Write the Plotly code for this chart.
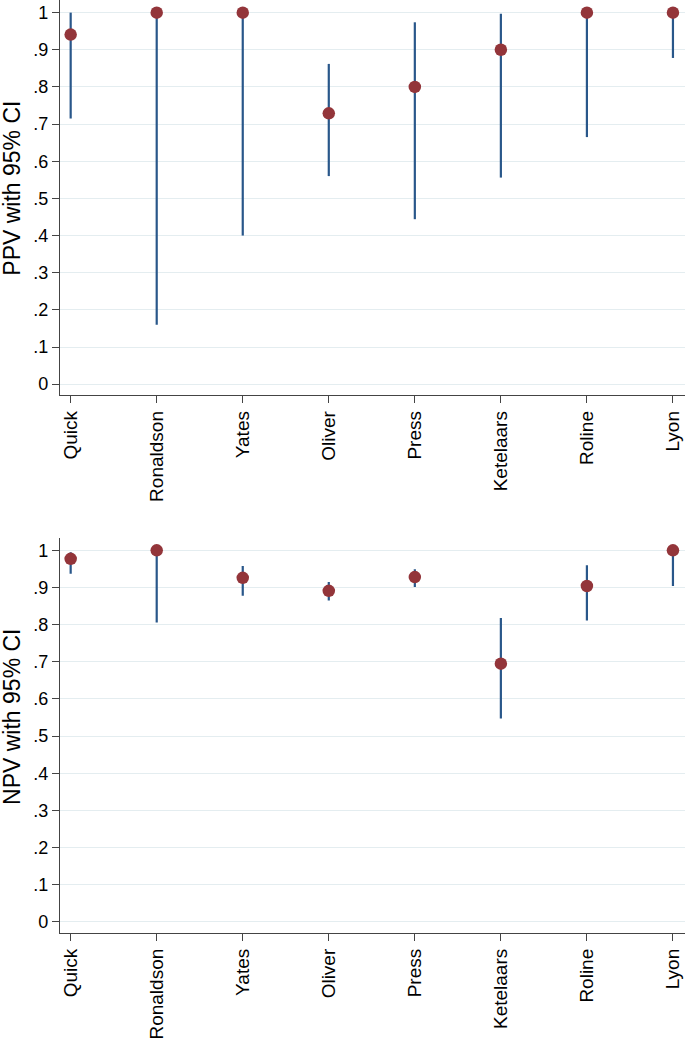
import plotly.graph_objects as go
from plotly.subplots import make_subplots

surgeons = ["Quick", "Ronaldson", "Yates", "Oliver", "Press", "Ketelaars", "Roline", "Lyon"]

ppv = [0.941, 1.0, 1.0, 0.729, 0.800, 0.900, 1.0, 1.0]
ppv_lo = [0.715, 0.160, 0.400, 0.560, 0.444, 0.556, 0.665, 0.878]
ppv_hi = [1.0, 1.0, 1.0, 0.862, 0.974, 0.997, 1.0, 1.0]

npv = [0.977, 1.0, 0.926, 0.891, 0.928, 0.695, 0.904, 1.0]
npv_lo = [0.937, 0.806, 0.878, 0.865, 0.901, 0.547, 0.811, 0.904]
npv_hi = [0.995, 1.0, 0.958, 0.915, 0.949, 0.818, 0.960, 1.0]

ytick_vals = [0, 0.1, 0.2, 0.3, 0.4, 0.5, 0.6, 0.7, 0.8, 0.9, 1.0]
ytick_text = ["0", ".1", ".2", ".3", ".4", ".5", ".6", ".7", ".8", ".9", "1"]

W, H = 685, 1040
ML, MR, MT, MB = 60, 0, 0, 103
plot_h = H - MT - MB
panel_h = 397
plot_w = W - ML - MR

fig = make_subplots(rows=2, cols=1, vertical_spacing=0.0)

x_pos = list(range(1, len(surgeons) + 1))

def add_panel(row, est, lo, hi):
    plus = [h - e for h, e in zip(hi, est)]
    minus = [e - l for e, l in zip(est, lo)]
    fig.add_trace(go.Scatter(
        x=x_pos, y=est, mode="markers",
        marker=dict(color="#93353a", size=12.5, line=dict(width=0)),
        error_y=dict(type="data", symmetric=False, array=plus, arrayminus=minus,
                     color="#29578a", thickness=2.2, width=0),
        showlegend=False, hoverinfo="skip"), row=row, col=1)

add_panel(1, ppv, ppv_lo, ppv_hi)
add_panel(2, npv, npv_lo, npv_hi)

fam = "Liberation Sans, Arial, sans-serif"
ytick_font = dict(family=fam, size=18, color="#000000")
xtick_font = dict(family=fam, size=19, color="#000000")

for row in (1, 2):
    fig.update_yaxes(row=row, col=1, range=[-0.03, 1.034], tickvals=ytick_vals, ticktext=ytick_text,
                     showgrid=True, gridcolor="#e4edf0", gridwidth=1, zeroline=False,
                     showline=True, linecolor="#444444", linewidth=1.3,
                     ticks="outside", ticklen=7, tickcolor="#444444", tickwidth=1.3,
                     tickfont=ytick_font)
    fig.update_xaxes(row=row, col=1, range=[0.876, 8.14], tickvals=x_pos, ticktext=surgeons,
                     tickangle=-90, showgrid=False, zeroline=False,
                     showline=True, linecolor="#444444", linewidth=1.3,
                     ticks="outside", ticklen=7, tickcolor="#444444", tickwidth=1.3,
                     tickfont=xtick_font)

def px_to_paper_y(py):
    return (plot_h - (py - MT)) / plot_h

for title, py in [("PPV with 95% CI", 189.5), ("NPV with 95% CI", 720)]:
    fig.add_annotation(text=title, xref="paper", yref="paper",
                       x=(12 - ML) / plot_w, y=px_to_paper_y(py),
                       xanchor="center", yanchor="middle", textangle=-90,
                       showarrow=False, font=dict(family=fam, size=23, color="#000000"))

fig.update_layout(
    width=W, height=H,
    margin=dict(l=ML, r=MR, t=MT, b=MB),
    paper_bgcolor="white", plot_bgcolor="white",
    yaxis=dict(domain=[(plot_h - panel_h) / plot_h, 1.0]),
    yaxis2=dict(domain=[0.0, panel_h / plot_h]),
)

fig.write_html("out.html", config={"displayModeBar": False},
               post_script="document.body.style.margin='0';document.body.style.overflow='hidden';")
